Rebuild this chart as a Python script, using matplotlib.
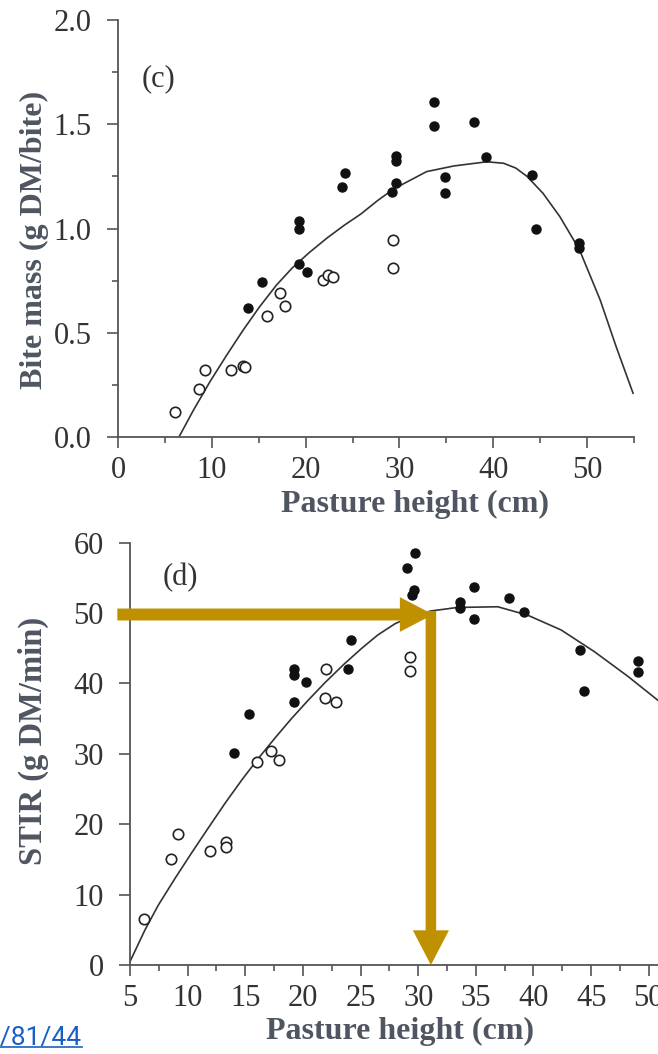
import matplotlib
matplotlib.use("Agg")
import matplotlib.pyplot as plt
from matplotlib import font_manager
from matplotlib.patches import FancyArrowPatch
from matplotlib.lines import Line2D
from matplotlib.ticker import MultipleLocator, FormatStrFormatter

# Panel (c): bite mass vs pasture height
c_open_x = [6.1, 8.6, 9.25, 12.0, 13.3, 13.5, 15.9, 17.3, 17.8, 21.8, 22.35, 22.95, 29.3, 29.3]
c_open_y = [0.12, 0.23, 0.32, 0.32, 0.34, 0.335, 0.58, 0.69, 0.63, 0.753, 0.777, 0.769, 0.945, 0.81]
c_fill_x = [13.85, 15.35, 19.3, 19.3, 19.3, 20.2, 24.15, 23.9, 29.6, 29.6, 29.6, 29.2,
            33.65, 33.65, 34.9, 34.9, 38.0, 39.2, 44.1, 44.55, 49.1, 49.1]
c_fill_y = [0.617, 0.745, 1.035, 0.996, 0.828, 0.79, 1.265, 1.20, 1.35, 1.325, 1.22, 1.177,
            1.608, 1.493, 1.248, 1.169, 1.512, 1.344, 1.257, 1.0, 0.932, 0.905]
c_curve_x = [6.5, 8.0, 9.8, 11.55, 13.3, 15.1, 16.9, 18.6, 20.4, 22.3, 24.1, 25.9, 27.7, 29.4,
             32.9, 35.8, 39.3, 41.1, 42.4, 43.6, 45.3, 47.1, 49.2, 51.4, 53.1, 54.9]
c_curve_y = [0.0, 0.125, 0.265, 0.39, 0.51, 0.625, 0.729, 0.812, 0.885, 0.955, 1.015, 1.07,
             1.135, 1.19, 1.273, 1.30, 1.32, 1.313, 1.29, 1.25, 1.169, 1.057, 0.897, 0.657,
             0.433, 0.21]

# Panel (d): STIR vs pasture height
d_open_x = [6.2, 8.55, 9.15, 11.95, 13.3, 13.35, 16.0, 17.2, 17.95, 21.9, 22.0, 22.9, 29.25, 29.25]
d_open_y = [6.6, 15.0, 18.6, 16.2, 17.5, 16.8, 28.8, 30.4, 29.1, 37.9, 42.0, 37.3, 43.8, 41.8]
d_fill_x = [14.05, 15.35, 19.2, 19.2, 19.2, 20.25, 24.2, 23.9, 29.7, 29.05, 29.6, 29.45,
            33.6, 33.6, 34.8, 34.8, 37.9, 39.2, 44.05, 44.4, 49.05, 49.05]
d_fill_y = [30.1, 35.7, 42.1, 41.2, 37.3, 40.2, 46.2, 42.0, 58.5, 56.4, 53.3, 52.6,
            51.6, 50.7, 53.7, 49.2, 52.2, 50.2, 44.8, 39.0, 43.2, 41.7]
d_curve_x = [5.0, 6.3, 7.45, 8.9, 10.35, 11.8, 13.25, 14.7, 16.1, 17.6, 19.0, 20.5, 21.9,
             23.6, 25.1, 26.5, 28.0, 29.5, 31.1, 33.4, 36.9, 39.5, 42.4, 45.3, 48.2, 50.8]
d_curve_y = [0.5, 5.0, 8.5, 12.3, 15.95, 19.5, 23.0, 26.3, 29.3, 32.3, 35.0, 37.7, 40.1,
             42.8, 45.0, 46.9, 48.5, 49.6, 50.3, 50.8, 50.9, 49.7, 47.6, 44.5, 41.0, 37.6]

# annotation arrow (read-off point)
arrow_y = 49.8
arrow_x = 31.1
arrow_start_x = 3.9

gold = "#BF9000"
tick_col = "#333333"
label_col = "#4f5661"
link_col = "#1a5fc4"

plt.rcParams["font.family"] = ["Liberation Serif", "DejaVu Serif"]

fig = plt.figure(figsize=(6.58, 10.54), dpi=100)
ax1 = fig.add_axes([0.1793, 0.5854, 0.7842, 0.3956])
ax2 = fig.add_axes([0.1976, 0.0844, 0.8024, 0.4007])


def style(ax):
    for s in ("top", "right"):
        ax.spines[s].set_visible(False)
    for s in ("left", "bottom"):
        ax.spines[s].set_color("#555555")
        ax.spines[s].set_linewidth(1.3)
    ax.tick_params(which="major", length=8, width=1.2, color="#555555",
                   labelsize=22, labelcolor=tick_col)
    ax.tick_params(which="minor", length=4.5, width=1.2, color="#555555")
    ax.tick_params(axis="y", pad=11)
    ax.tick_params(axis="x", pad=6)


def points(ax, ox, oy, fx, fy):
    ax.plot(ox, oy, "o", ms=7.5, mfc="white", mec="#222222", mew=1.2, clip_on=False, zorder=3)
    ax.plot(fx, fy, "o", ms=6.5, mfc="#111111", mec="#111111", clip_on=False, zorder=3)


# (c)
style(ax1)
ax1.plot(c_curve_x, c_curve_y, color="#333333", lw=1.2, zorder=2)
points(ax1, c_open_x, c_open_y, c_fill_x, c_fill_y)
ax1.set_xlim(0, 55)
ax1.set_ylim(0, 2.0)
ax1.xaxis.set_major_locator(MultipleLocator(10))
ax1.xaxis.set_minor_locator(MultipleLocator(5))
ax1.yaxis.set_major_locator(MultipleLocator(0.5))
ax1.yaxis.set_minor_locator(MultipleLocator(0.25))
ax1.yaxis.set_major_formatter(FormatStrFormatter("%.1f"))
ax1.set_xlabel("Pasture height (cm)", fontsize=23, fontweight="bold", color=label_col)
ax1.set_ylabel("Bite mass (g DM/bite)", fontsize=23, fontweight="bold", color=label_col)
ax1.xaxis.set_label_coords(0.576, -0.127)
ax1.yaxis.set_label_coords(-0.134, 0.472)
ax1.text(4.36, 1.72, "(c)", fontsize=22, color=tick_col, ha="center", va="center")

# (d)
style(ax2)
ax2.plot(d_curve_x, d_curve_y, color="#333333", lw=1.2, zorder=2)
points(ax2, d_open_x, d_open_y, d_fill_x, d_fill_y)
ax2.set_xlim(5, 50.8)
ax2.set_ylim(0, 60)
ax2.xaxis.set_major_locator(MultipleLocator(5))
ax2.xaxis.set_minor_locator(MultipleLocator(2.5))
ax2.yaxis.set_major_locator(MultipleLocator(10))
ax2.set_xlabel("Pasture height (cm)", fontsize=23, fontweight="bold", color=label_col)
ax2.set_ylabel("STIR (g DM/min)", fontsize=23.5, fontweight="bold", color=label_col)
ax2.xaxis.set_label_coords(0.511, -0.123)
ax2.yaxis.set_label_coords(-0.153, 0.53)
ax2.text(9.34, 55.1, "(d)", fontsize=22, color=tick_col, ha="center", va="center")

# gold arrows
h_arrow = FancyArrowPatch((arrow_start_x, arrow_y), (arrow_x + 0.2, arrow_y),
                          arrowstyle="simple,head_length=24,head_width=25,tail_width=8.6",
                          mutation_scale=1, shrinkA=0, shrinkB=0, lw=0, color=gold,
                          transform=ax2.transData, clip_on=False, zorder=5)
v_arrow = FancyArrowPatch((arrow_x, arrow_y + 0.5), (arrow_x, 0),
                          arrowstyle="simple,head_length=25,head_width=26,tail_width=7.6",
                          mutation_scale=1, shrinkA=0, shrinkB=0, lw=0, color=gold,
                          transform=ax2.transData, clip_on=False, zorder=5)
ax2.add_patch(h_arrow)
ax2.add_patch(v_arrow)

# cut-off link text at the lower left (narrow sans if available)
try:
    font_manager.findfont("Liberation Sans Narrow", fallback_to_default=False)
    link_family, link_size = "Liberation Sans Narrow", 25
except Exception:
    link_family, link_size = "Roboto", 19
fig.text(0.1246, 0.0085, "1/81/44", ha="right", va="baseline", fontsize=link_size,
         color=link_col, family=[link_family, "DejaVu Sans"])
fig.add_artist(Line2D([0, 0.1246], [0.0065, 0.0065], color=link_col, lw=1.2,
                      transform=fig.transFigure))

fig.savefig("out.png", dpi=100)
